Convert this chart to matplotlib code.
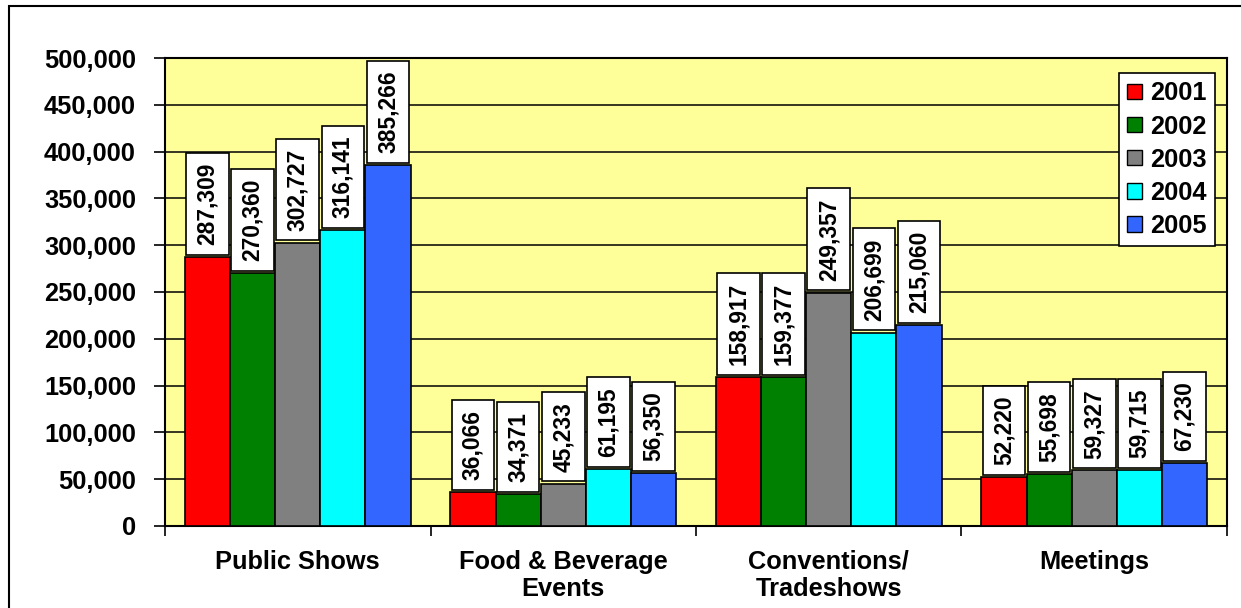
import numpy as np
import matplotlib
matplotlib.use("Agg")
from matplotlib import pyplot as plt
from matplotlib.patches import Rectangle
from matplotlib.ticker import FuncFormatter

plt.rcParams['font.family'] = ['Liberation Sans', 'DejaVu Sans']
plt.rcParams['font.weight'] = 'bold'

# data
categories = ["Public Shows", "Food & Beverage\nEvents", "Conventions/\nTradeshows", "Meetings"]
years = ["2001", "2002", "2003", "2004", "2005"]
v2001 = [287309, 36066, 158917, 52220]
v2002 = [270360, 34371, 159377, 55698]
v2003 = [302727, 45233, 249357, 59327]
v2004 = [316141, 61195, 206699, 59715]
v2005 = [385266, 56350, 215060, 67230]
series = [v2001, v2002, v2003, v2004, v2005]
colors = ["#FF0000", "#008000", "#808080", "#00FFFF", "#3366FF"]

fs = 18.3      # horizontal text
fs_lab = 16.4  # rotated value labels
fig = plt.figure(figsize=(12.41, 6.08), dpi=100)
ax = fig.add_axes([0.1330, 0.1349, 0.8557, 0.7697])
ax.set_facecolor("#FFFF99")

x = np.arange(len(categories))
w = 0.17
for i, (vals, c, yr) in enumerate(zip(series, colors, years)):
    pos = x + (i - 2) * w
    ax.bar(pos, vals, width=w, color=c, edgecolor="black", linewidth=1.2,
           label=yr, zorder=3)
    for px, v in zip(pos, vals):
        ax.annotate(f"{v:,}", (px, v), xytext=(0, 8.6), textcoords="offset points",
                    rotation=90, ha="center", va="bottom", fontsize=fs_lab,
                    fontweight="bold", zorder=5,
                    bbox=dict(boxstyle="square,pad=0.43", fc="white",
                              ec="black", lw=1.2))

ax.set_xlim(-0.5, len(categories) - 0.5)
ax.set_ylim(0, 500000)
ax.set_yticks(np.arange(0, 500001, 50000))
ax.yaxis.set_major_formatter(FuncFormatter(lambda v, p: f"{int(v):,}"))
ax.tick_params(axis="y", length=8, width=1.2, pad=13, labelsize=fs)
ax.set_xticks(x)
ax.set_xticklabels(categories, fontsize=fs, fontweight="bold")
ax.tick_params(axis="x", which="major", length=0, pad=17)
ax.set_xticks(np.arange(-0.5, len(categories), 1.0), minor=True)
ax.tick_params(axis="x", which="minor", length=7, width=1.2)
ax.grid(axis="y", color="black", linewidth=1.1, zorder=0)
ax.set_axisbelow(True)
for s in ax.spines.values():
    s.set_linewidth(1.5)
    s.set_color("black")

leg = ax.legend(loc="upper right", bbox_to_anchor=(1215 / 1241, 1 - 73 / 608),
                bbox_transform=fig.transFigure, borderaxespad=0, fontsize=fs,
                frameon=True, fancybox=False, framealpha=1, edgecolor="black",
                handlelength=0.56, handleheight=0.56, handletextpad=0.33,
                labelspacing=0.36, borderpad=0.33)
leg.get_frame().set_linewidth(1.2)
for t in leg.get_texts():
    t.set_fontweight("bold")
for h in leg.legend_handles:
    h.set_edgecolor("black")
    h.set_linewidth(1.0)

# outer chart border (cut at right/bottom of the picture)
fig.patches.append(Rectangle((9 / 1241, -0.2), 1.5, 1.2 - 6 / 608, fill=False,
                             ec="black", lw=1.5, transform=fig.transFigure,
                             figure=fig))

fig.savefig("out.png", dpi=100)
